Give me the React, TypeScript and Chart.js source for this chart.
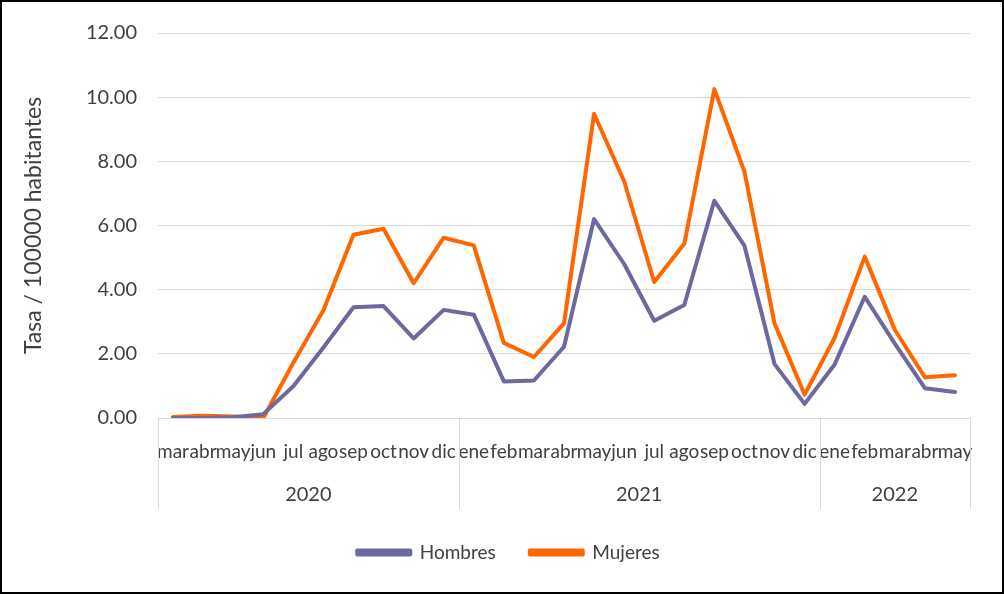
import React, { useEffect, useRef } from "react";
import { Chart, registerables } from "chart.js";

Chart.register(...registerables);

// Month labels, grouped by year
const months2020 = ["mar", "abr", "may", "jun", "jul", "ago", "sep", "oct", "nov", "dic"];
const months2021 = ["ene", "feb", "mar", "abr", "may", "jun", "jul", "ago", "sep", "oct", "nov", "dic"];
const months2022 = ["ene", "feb", "mar", "abr", "may"];
const years = ["2020", "2021", "2022"];

// Rate per 100000 inhabitants
const hombres = [
  0.0, 0.0, 0.02, 0.12, 0.99, 2.2, 3.45, 3.49, 2.48, 3.37,
  3.22, 1.14, 1.17, 2.22, 6.2, 4.8, 3.03, 3.52, 6.77, 5.37, 1.68, 0.44,
  1.67, 3.78, 2.32, 0.93, 0.81,
];
const mujeres = [
  0.03, 0.07, 0.05, 0.0, 1.72, 3.36, 5.71, 5.9, 4.2, 5.62,
  5.38, 2.34, 1.9, 2.95, 9.48, 7.38, 4.24, 5.43, 10.25, 7.68, 2.95, 0.73,
  2.5, 5.03, 2.75, 1.27, 1.33,
];

const yTicks = [0, 2, 4, 6, 8, 10, 12];

const FONT = "Lato, 'Open Sans', 'Liberation Sans', sans-serif";
const TEXT = "#404040";
const GRID = "#d9d9d9";

const groups = [months2020, months2021, months2022];
const labels = groups.flat();

// Draws the year row under the month labels with its separators, and the frame
const yearAxisPlugin = {
  id: "yearAxis",
  afterDraw(chart: any) {
    const { ctx, chartArea } = chart;
    const x = chart.scales.x;
    const step = x.getPixelForValue(1) - x.getPixelForValue(0);
    const top = chartArea.bottom;
    const bottom = top + 91;
    ctx.save();
    ctx.strokeStyle = GRID;
    ctx.lineWidth = 1;
    let start = 0;
    const edges: number[] = [];
    groups.forEach((g) => {
      edges.push(x.getPixelForValue(start) - step / 2);
      start += g.length;
    });
    edges.push(x.getPixelForValue(start - 1) + step / 2);
    edges.forEach((e) => {
      const px = Math.round(e) + 0.5;
      ctx.beginPath();
      ctx.moveTo(px, top);
      ctx.lineTo(px, bottom);
      ctx.stroke();
    });
    ctx.fillStyle = TEXT;
    ctx.font = `20px ${FONT}`;
    ctx.textAlign = "center";
    ctx.textBaseline = "middle";
    years.forEach((yr, i) => {
      ctx.fillText(yr, (edges[i] + edges[i + 1]) / 2, top + 77);
    });
    ctx.strokeStyle = "#000";
    ctx.lineWidth = 2;
    ctx.strokeRect(1, 1, chart.width - 2, chart.height - 2);
    ctx.restore();
  },
};

export default function App() {
  const ref = useRef<HTMLCanvasElement>(null);

  useEffect(() => {
    if (!ref.current) return;
    const chart = new Chart(ref.current, {
      type: "line",
      data: {
        labels,
        datasets: [
          {
            label: "Hombres",
            data: hombres,
            borderColor: "#6B699F",
            backgroundColor: "#6B699F",
            borderWidth: 4,
            pointRadius: 0,
            tension: 0,
            borderJoinStyle: "round",
            borderCapStyle: "round",
          },
          {
            label: "Mujeres",
            data: mujeres,
            borderColor: "#FF6600",
            backgroundColor: "#FF6600",
            borderWidth: 4,
            pointRadius: 0,
            tension: 0,
            borderJoinStyle: "round",
            borderCapStyle: "round",
          },
        ],
      },
      options: {
        responsive: false,
        animation: false,
        devicePixelRatio: 1,
        layout: { padding: { left: 47, right: 34, top: 30, bottom: 22 } },
        plugins: {
          tooltip: { enabled: false },
          legend: {
            position: "bottom",
            labels: {
              boxWidth: 53,
              boxHeight: 4,
              padding: 34,
              color: TEXT,
              font: { family: FONT, size: 19 },
            },
          },
        },
        scales: {
          x: {
            type: "category",
            offset: true,
            grid: { display: false, drawTicks: false },
            border: { display: false },
            ticks: {
              autoSkip: false,
              maxRotation: 0,
              minRotation: 0,
              padding: 22,
              color: TEXT,
              font: { family: FONT, size: 19 },
            },
            afterFit(scale: any) {
              scale.height = 91;
            },
          },
          y: {
            min: 0,
            max: 12,
            afterBuildTicks(scale: any) {
              scale.ticks = yTicks.map((v) => ({ value: v }));
            },
            grid: { color: GRID, lineWidth: 1, drawTicks: false },
            border: { display: false },
            ticks: {
              padding: 21,
              color: TEXT,
              font: { family: FONT, size: 20 },
              callback: (v: any) => Number(v).toFixed(2),
            },
            title: {
              display: true,
              text: "Tasa / 100000 habitantes",
              color: TEXT,
              font: { family: FONT, size: 23 },
              padding: { top: -27, bottom: 0 },
            },
            afterFit(scale: any) {
              scale.width = 111;
            },
          },
        },
      },
      plugins: [yearAxisPlugin],
    });
    return () => chart.destroy();
  }, []);

  return (
    <div style={{ position: "fixed", left: 0, top: 0, width: 1004, height: 594, background: "#fff" }}>
      <canvas ref={ref} width={1004} height={594} style={{ display: "block" }} />
    </div>
  );
}
